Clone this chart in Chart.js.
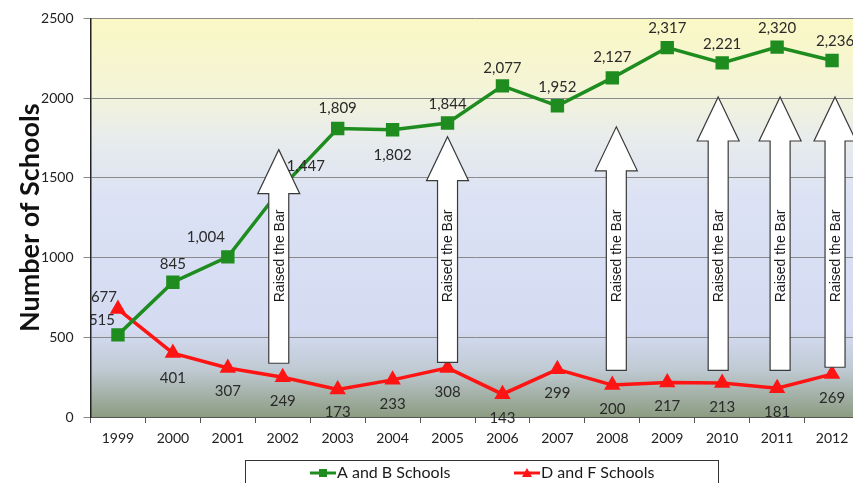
<!DOCTYPE html>
<html>
<head>
<meta charset="utf-8">
<script src="https://cdn.jsdelivr.net/npm/chart.js@4.4.1/dist/chart.umd.min.js"></script>
<style>
  html, body { margin: 0; padding: 0; background: #fff; overflow: hidden; }
  #wrap { width: 853px; height: 483px; overflow: hidden; }
</style>
</head>
<body>
<div id="wrap"><canvas id="myChart" width="870" height="483"></canvas></div>
<script>
  const years = ['1999', '2000', '2001', '2002', '2003', '2004', '2005',
                 '2006', '2007', '2008', '2009', '2010', '2011', '2012'];
  const abSchools = [515, 845, 1004, 1447, 1809, 1802, 1844, 2077, 1952, 2127, 2317, 2221, 2320, 2236];
  const dfSchools = [677, 401, 307, 249, 173, 233, 308, 143, 299, 200, 217, 213, 181, 269];
  const yTicks = [0, 500, 1000, 1500, 2000, 2500];

  // "Raised the Bar" arrows: year, tip value, bottom of shaft
  const raisedYears = ['2002', '2005', '2008', '2010', '2011', '2012'];
  const raisedTop = [1677, 1758, 1820, 2007, 2007, 2007];
  const raisedBottom = [337, 343, 293, 293, 293, 312];
  const raisedNudge = [-4, 0, 4, -4, 3, 3];   // px, sideways
  const raisedTextLevel = 1010;                // value at the middle of the caption

  // label placement per point: [dx, dy] in pixels from the marker
  const abLabelShift = [[-16, -15], [0, -18], [-22, -20], [23, -20], [0, -20], [0, 25], [0, -19],
                        [0, -18], [0, -19], [0, -21], [0, -19], [0, -19], [0, -19], [3, -19]];
  const dfLabelShift = [[-14, -12], [0, 25], [0, 23], [0, 24], [0, 23], [0, 24], [0, 24],
                        [0, 24], [0, 24], [0, 24], [0, 24], [0, 24], [0, 24], [0, 24]];

  const GREEN = '#1e8c1e';
  const RED = '#ff1414';

  const plotBackground = {
    id: 'plotBackground',
    beforeDraw(chart) {
      const { ctx, chartArea: a } = chart;
      const g = ctx.createLinearGradient(0, a.top, 0, a.bottom);
      g.addColorStop(0, '#faf8c4');
      g.addColorStop(0.18, '#f4f4d8');
      g.addColorStop(0.3, '#e8ecec');
      g.addColorStop(0.45, '#dce2f4');
      g.addColorStop(0.78, '#d4dbf2');
      g.addColorStop(0.88, '#c0cad4');
      g.addColorStop(1, '#8b9c81');
      ctx.save();
      ctx.fillStyle = g;
      ctx.fillRect(a.left, a.top, a.right - a.left, a.bottom - a.top);
      ctx.restore();
    }
  };

  const raisedArrows = {
    id: 'raisedArrows',
    afterDatasetsDraw(chart) {
      const { ctx, scales: { x, y } } = chart;
      const shaftHalf = 10, headHalf = 21, headLen = 44;
      const textY = y.getPixelForValue(raisedTextLevel);
      ctx.save();
      raisedYears.forEach((yr, i) => {
        const cx = x.getPixelForValue(years.indexOf(yr)) + raisedNudge[i];
        const top = y.getPixelForValue(raisedTop[i]);
        const bot = y.getPixelForValue(raisedBottom[i]);
        const neck = top + headLen;
        ctx.beginPath();
        ctx.moveTo(cx, top);
        ctx.lineTo(cx + headHalf, neck);
        ctx.lineTo(cx + shaftHalf, neck);
        ctx.lineTo(cx + shaftHalf, bot);
        ctx.lineTo(cx - shaftHalf, bot);
        ctx.lineTo(cx - shaftHalf, neck);
        ctx.lineTo(cx - headHalf, neck);
        ctx.closePath();
        ctx.fillStyle = '#ffffff';
        ctx.fill();
        ctx.lineWidth = 1.2;
        ctx.strokeStyle = '#3a3a3a';
        ctx.stroke();

        ctx.save();
        ctx.translate(cx, textY);
        ctx.rotate(-Math.PI / 2);
        ctx.font = '14px "Liberation Sans", Arial, sans-serif';
        ctx.fillStyle = '#1a1a1a';
        ctx.textAlign = 'center';
        ctx.textBaseline = 'middle';
        ctx.fillText('Raised the Bar', 0, 1);
        ctx.restore();
      });
      ctx.restore();
    }
  };

  const valueLabels = {
    id: 'valueLabels',
    afterDatasetsDraw(chart) {
      const { ctx } = chart;
      const shifts = [abLabelShift, dfLabelShift];
      ctx.save();
      ctx.font = '15px Lato, sans-serif';
      ctx.fillStyle = '#2a2a2a';
      ctx.textAlign = 'center';
      ctx.textBaseline = 'middle';
      chart.data.datasets.forEach((ds, di) => {
        chart.getDatasetMeta(di).data.forEach((pt, i) => {
          const [dx, dy] = shifts[di][i];
          ctx.fillText(ds.data[i].toLocaleString('en-US'), pt.x + dx, pt.y + dy);
        });
      });
      ctx.restore();
    }
  };

  // boxed legend under the axis, line + marker for each series
  const boxLegend = {
    id: 'boxLegend',
    afterDraw(chart) {
      const { ctx } = chart;
      const boxL = 245, boxR = 718, boxT = 460, midY = 473;
      ctx.save();
      ctx.fillStyle = '#ffffff';
      ctx.fillRect(boxL, boxT, boxR - boxL, 40);
      ctx.strokeStyle = '#333';
      ctx.lineWidth = 1;
      ctx.strokeRect(boxL + 0.5, boxT + 0.5, boxR - boxL, 40);
      ctx.font = '16px Lato, sans-serif';
      ctx.textBaseline = 'middle';
      const starts = [310, 514];
      chart.data.datasets.forEach((ds, i) => {
        const x0 = starts[i];
        ctx.strokeStyle = ds.borderColor;
        ctx.lineWidth = 3;
        ctx.beginPath();
        ctx.moveTo(x0, midY);
        ctx.lineTo(x0 + 26, midY);
        ctx.stroke();
        ctx.fillStyle = ds.borderColor;
        ctx.beginPath();
        if (ds.pointStyle === 'rect') {
          ctx.rect(x0 + 9, midY - 4, 8, 8);
        } else {
          ctx.moveTo(x0 + 13, midY - 5);
          ctx.lineTo(x0 + 18, midY + 4);
          ctx.lineTo(x0 + 8, midY + 4);
          ctx.closePath();
        }
        ctx.fill();
        ctx.fillStyle = '#1a1a1a';
        ctx.fillText(ds.label, x0 + 27, midY);
      });
      ctx.restore();
    }
  };

  const ctx = document.getElementById('myChart').getContext('2d');
  const myChart = new Chart(ctx, {
    type: 'line',
    data: {
      labels: years,
      datasets: [{
        label: 'A and B Schools',
        data: abSchools,
        borderColor: GREEN,
        backgroundColor: GREEN,
        borderWidth: 3.5,
        pointStyle: 'rect',
        pointRadius: 7,
        pointHoverRadius: 7,
        tension: 0
      }, {
        label: 'D and F Schools',
        data: dfSchools,
        borderColor: RED,
        backgroundColor: RED,
        borderWidth: 3.5,
        pointStyle: 'triangle',
        pointRadius: 6,
        pointHoverRadius: 6,
        tension: 0
      }]
    },
    options: {
      responsive: false,
      animation: false,
      layout: { padding: { top: 16, right: 9.5, left: 0, bottom: 0 } },
      plugins: {
        legend: { display: false },
        tooltip: { enabled: false }
      },
      scales: {
        x: {
          offset: true,
          grid: { offset: true, drawOnChartArea: false, tickLength: 6, color: '#555' },
          border: { color: '#555', width: 1 },
          ticks: { color: '#222', font: { family: 'Lato', size: 14 }, padding: 7, maxRotation: 0 },
          afterFit(scale) { scale.height = 66; }
        },
        y: {
          min: 0,
          max: 2500,
          afterBuildTicks(scale) { scale.ticks = yTicks.map(v => ({ value: v })); },
          grid: { color: '#8a8a8a', tickLength: 7, lineWidth: 1 },
          border: { color: '#222', width: 1.5 },
          ticks: {
            color: '#222',
            font: { family: 'Lato', size: 14 },
            padding: 10,
            callback: v => String(v)
          },
          title: {
            display: true,
            text: 'Number of Schools',
            color: '#111',
            font: { family: 'Lato', size: 27, weight: 'bold' },
            padding: { top: 14, bottom: 0 }
          },
          afterFit(scale) { scale.width = 90.5; }
        }
      }
    },
    plugins: [plotBackground, raisedArrows, valueLabels, boxLegend]
  });
</script>
</body>
</html>
